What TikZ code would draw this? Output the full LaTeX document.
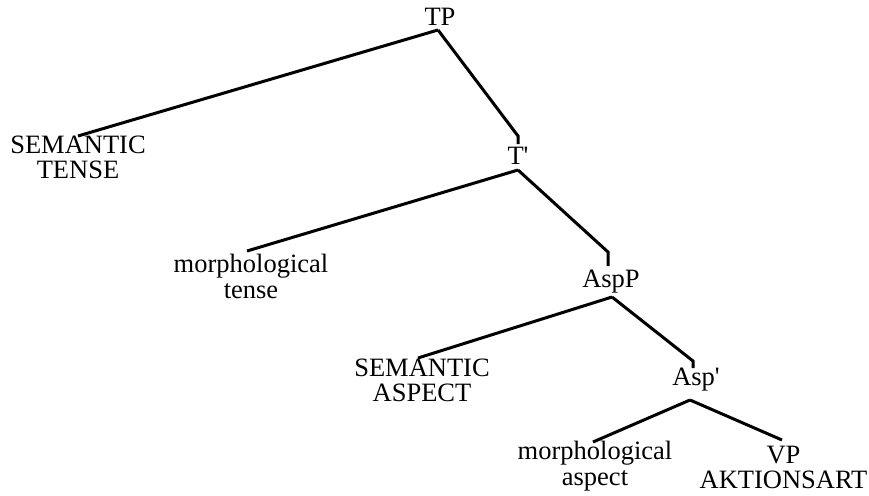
\documentclass[tikz,border=0pt]{standalone}
\usepackage{fontspec}
\newfontfamily\tnr{Liberation Serif}
\begin{document}
\begin{tikzpicture}[x=1pt,y=-1pt,
  lbl/.style={inner sep=0pt, anchor=base, font=\tnr\fontsize{26.5}{30}\selectfont},
  lbltwo/.style={inner sep=0pt, anchor=north, align=center,
    font=\tnr\fontsize{26.5}{#1}\selectfont},
  branch/.style={line width=3pt, line join=miter, line cap=butt}]
\useasboundingbox (0,0) rectangle (869,495);
% labels
\node[lbl] (tp) at (440,26) {TP};
\node[lbltwo=25] (st) at (78,136) {SEMANTIC\\TENSE};
\node[lbl] (tb) at (518,164) {T'};
\node[lbltwo=26] (mt) at (251,254) {morphological\\tense};
\node[lbl] (aspp) at (611,287) {AspP};
\node[lbltwo=25] (sa) at (422,359) {SEMANTIC\\ASPECT};
\node[lbl] (aspb) at (696,385) {Asp'};
\node[lbltwo=26] (ma) at (595,441) {morphological\\aspect};
\node[lbltwo=25] (vp) at (783.5,445.5) {VP\\AKTIONSART};
% branch points
\coordinate (tpA) at (438,30);
\coordinate (tbA) at (518,170);
\coordinate (asppA) at (612,297);
\coordinate (aspbA) at (690,400);
\coordinate (stE) at (78,136);
\coordinate (tbK) at (518,136);
\coordinate (tbE) at (518,144);
\coordinate (mtE) at (247,251);
\coordinate (asppK) at (608,252);
\coordinate (asppE) at (608,266);
\coordinate (saE) at (418,358);
\coordinate (aspbK) at (693,361);
\coordinate (aspbE) at (693,368);
\coordinate (maE) at (593,442);
\coordinate (vpE) at (782,440);
% connectors
\draw[branch] (tpA) -- (stE);
\draw[branch] (tpA) -- (tbK) -- (tbE);
\draw[branch] (tbA) -- (mtE);
\draw[branch] (tbA) -- (asppK) -- (asppE);
\draw[branch] (asppA) -- (saE);
\draw[branch] (asppA) -- (aspbK) -- (aspbE);
\draw[branch] (aspbA) -- (maE);
\draw[branch] (aspbA) -- (vpE);
\end{tikzpicture}
\end{document}
